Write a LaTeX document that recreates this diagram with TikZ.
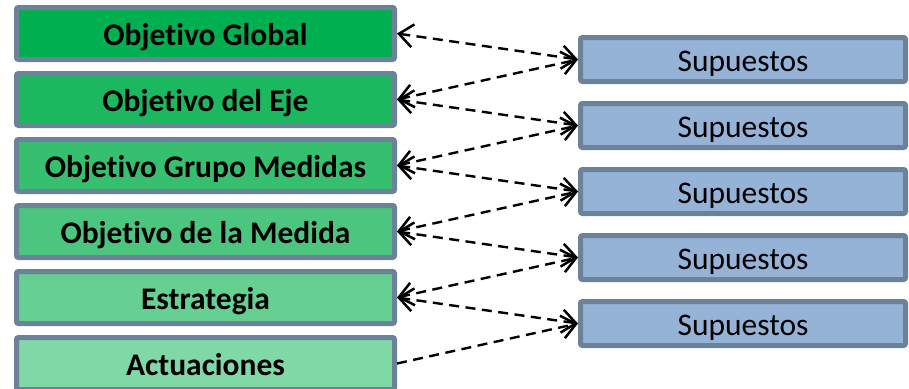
\documentclass[tikz,border=0pt]{standalone}
\usepackage{fontspec}
\setmainfont[RawFeature=-liga]{Carlito}
\usetikzlibrary{arrows.meta}
\definecolor{bord}{HTML}{6B8299}
\definecolor{gA}{HTML}{00B050}
\definecolor{gB}{HTML}{1CB860}
\definecolor{gC}{HTML}{35BF6F}
\definecolor{gD}{HTML}{4CC67F}
\definecolor{gE}{HTML}{66CF92}
\definecolor{gF}{HTML}{80D8A6}
\definecolor{supfill}{HTML}{95B3D7}
\tikzset{
  lbox/.style={draw=bord, line width=5pt, rounded corners=2pt, minimum width=378pt, minimum height=52pt, inner sep=0pt, text height=27pt, text depth=4pt, font=\fontsize{31.5}{36}\selectfont\bfseries, text=black},
  rbox/.style={draw=bord, line width=5pt, rounded corners=2pt, fill=supfill, minimum width=325pt, minimum height=44pt, inner sep=0pt, text height=27pt, text depth=4pt, font=\fontsize{31.5}{36}\selectfont, text=black},
  conn/.style={line width=2.4pt, dash pattern=on 10pt off 6.5pt, black, arrows={Straight Barb[length=14pt,width=23pt,line width=2.5pt]-Straight Barb[length=14pt,width=23pt,line width=2.5pt]}},
  conn1/.style={line width=2.4pt, dash pattern=on 10pt off 6.5pt, black, arrows={-Straight Barb[length=14pt,width=23pt,line width=2.5pt]}}
}
\begin{document}
\begin{tikzpicture}[x=1pt,y=-1pt]
\useasboundingbox (0,0) rectangle (909,388);
\node[lbox, fill=gA] (L1) at (205.5,33.5) {Objetivo Global};
\node[lbox, fill=gB] (L2) at (205.5,99.5) {Objetivo del Eje};
\node[lbox, fill=gC] (L3) at (205.5,165.5) {Objetivo Grupo Medidas};
\node[lbox, fill=gD] (L4) at (205.5,231.5) {Objetivo de la Medida};
\node[lbox, fill=gE] (L5) at (205.5,297.5) {Estrategia};
\node[lbox, fill=gF] (L6) at (205.5,363.5) {Actuaciones};
\node[rbox] (R1) at (743,59.5) {Supuestos};
\node[rbox] (R2) at (743,125.5) {Supuestos};
\node[rbox] (R3) at (743,191.5) {Supuestos};
\node[rbox] (R4) at (743,257.5) {Supuestos};
\node[rbox] (R5) at (743,323.5) {Supuestos};
\draw[conn] (L1.east) -- (R1.west);
\draw[conn] (L2.east) -- (R1.west);
\draw[conn] (L2.east) -- (R2.west);
\draw[conn] (L3.east) -- (R2.west);
\draw[conn] (L3.east) -- (R3.west);
\draw[conn] (L4.east) -- (R3.west);
\draw[conn] (L4.east) -- (R4.west);
\draw[conn] (L5.east) -- (R4.west);
\draw[conn] (L5.east) -- (R5.west);
\draw[conn1] (L6.east) -- (R5.west);
\end{tikzpicture}
\end{document}
